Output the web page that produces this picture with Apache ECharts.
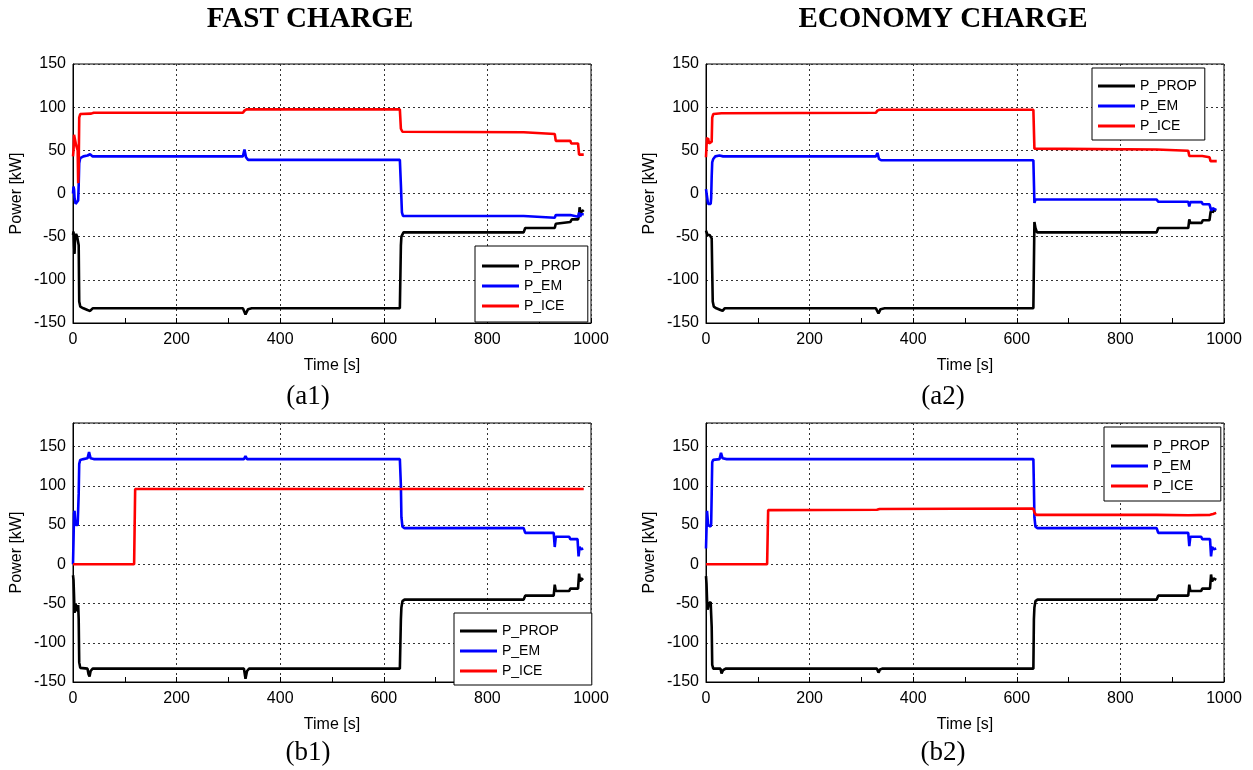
<!DOCTYPE html>
<html><head><meta charset="utf-8">
<script src="https://cdn.jsdelivr.net/npm/echarts@6/dist/echarts.min.js"></script>
<style>html,body{margin:0;padding:0;background:#fff}#c{width:1253px;height:770px}</style>
</head><body><div id="c"></div>
<script>
const SERIES_NAMES = ['P_PROP', 'P_EM', 'P_ICE'];
const PANEL_TITLES = ['FAST CHARGE', 'ECONOMY CHARGE'];
const PANEL_LABELS = ['(a1)', '(a2)', '(b1)', '(b2)'];
const X_AXIS_NAME = 'Time [s]';
const Y_AXIS_NAME = 'Power [kW]';

// (a1) Fast charge, top
const A1_PROP = [[0,-48],[1,-44],[2,-60],[3,-70],[4,-50],[6,-47],[8,-50],[10,-52],[11,-60],[12,-125],[14,-131],[20,-133],[28,-135],[33,-136],[38,-133],[328,-133],[333,-140],[338,-134],[345,-133],[631,-133],[633,-60],[634,-50],[638,-45],[870,-45],[873,-40],[930,-40],[932,-35],[960,-33],[963,-30],[975,-30],[977,-25],[978,-16],[980,-22],[983,-20],[986,-19]];
const A1_EM = [[0,0],[1,8],[2,5],[3,-5],[5,-12],[8,-10],[10,-8],[11,10],[12,35],[14,41],[20,43],[28,44],[33,45.5],[38,43],[328,43],[331,51],[334,42],[338,39],[631,39],[633,10],[635,-22],[637,-26],[870,-26],[873,-28],[930,-28],[932,-25],[960,-25],[962,-26],[975,-27],[977,-22],[979,-27],[981,-24],[986,-24]];
const A1_ICE = [[0,43],[1,50],[2,68],[3,70],[4,62],[6,56],[8,58],[9,50],[10,12],[11,30],[12,88],[14,92],[35,92.5],[40,93.5],[328,93.5],[331,96],[335,97.5],[631,97.5],[633,75],[636,71.5],[870,71],[873,69],[930,69],[932,61],[960,61],[962,58],[975,58],[977,45],[986,45]];

// (a2) Economy charge, top
const A2_PROP = [[0,-43],[1,-45],[3,-48],[5,-50],[7,-48],[9,-50],[11,-52],[12,-90],[13,-125],[15,-131],[20,-133],[28,-135],[32,-136],[36,-133],[328,-133],[333,-139],[337,-134],[345,-133],[632,-133],[634,-33],[636,-40],[639,-45],[870,-45],[873,-40],[931,-40],[933,-30],[935,-34],[957,-34],[959,-31],[972,-31],[974,-22],[976,-18],[978,-22],[981,-19],[985,-20]];
const A2_EM = [[0,5],[1,7],[2,3],[4,-12],[9,-12],[10,-5],[11,20],[12,36],[14,40],[18,43],[26,44],[29,46],[33,43],[328,43],[331,47],[334,40],[338,38.5],[632,38.5],[634,-11],[636,-7],[870,-7],[873,-9.5],[931,-9.5],[933,-15],[935,-10],[957,-10],[959,-12.5],[972,-12.5],[974,-17],[976,-20],[978,-17],[981,-19],[985,-19]];
const A2_ICE = [[0,42],[1,55],[2,65],[3,60],[4,64],[6,58],[9,58],[11,60],[12,88],[14,92],[30,93],[328,93.5],[331,96],[335,97],[632,97],[634,52],[636,51],[870,51],[873,49.5],[931,49.5],[933,43.5],[958,43.5],[960,42],[972,42],[974,37.5],[986,37.5]];

// (b1) Fast charge, bottom
const B1_PROP = [[0,-14],[1,-20],[2,-40],[3,-62],[4,-55],[5,-50],[6,-48],[8,-50],[9,-60],[10,-52],[11,-70],[12,-125],[14,-132],[28,-133],[30,-140],[32,-143],[34,-136],[38,-133],[330,-133],[333,-146],[336,-136],[340,-133],[631,-133],[633,-70],[634,-55],[636,-47],[640,-45],[870,-45],[873,-40],[928,-40],[930,-26],[932,-34],[958,-34],[960,-31],[975,-31],[977,-12],[979,-22],[981,-18],[985,-20]];
const B1_EM = [[0,0],[1,30],[2,65],[3,68],[4,58],[5,50],[7,48],[9,50],[10,52],[11,90],[12,128],[14,133],[20,134],[28,135],[31,143],[34,135],[40,134],[330,134],[333,138],[336,134],[631,134],[633,100],[634,60],[636,48],[640,46],[870,46],[873,40],[928,40],[930,22],[932,35],[958,35],[960,32],[974,32],[976,10],[978,22],[981,19],[985,20]];
const B1_ICE = [[0,0],[118,0],[120,96],[986,96]];

// (b2) Economy charge, bottom
const B2_PROP = [[0,-15],[1,-25],[2,-45],[3,-58],[4,-55],[5,-50],[7,-48],[9,-48],[10,-50],[11,-80],[12,-128],[14,-133],[28,-133],[30,-139],[33,-135],[38,-133],[330,-133],[333,-138],[336,-134],[340,-133],[632,-133],[633,-70],[634,-55],[636,-47],[640,-45],[870,-45],[873,-40],[931,-40],[933,-26],[935,-34],[956,-34],[958,-31],[973,-31],[975,-13],[977,-22],[980,-18],[985,-20]];
const B2_EM = [[0,20],[1,45],[2,68],[3,60],[4,50],[6,48],[9,48],[10,52],[11,90],[12,130],[14,133],[26,134],[29,142],[32,135],[40,134],[330,134],[333,136],[336,134],[632,134],[633,100],[634,60],[636,48],[640,46],[870,46],[873,40],[931,40],[933,23],[935,35],[956,35],[958,32],[973,32],[975,10],[977,22],[980,19],[985,20]];
const B2_ICE = [[0,0],[118,0],[120,69],[330,69.5],[335,70.5],[632,71],[634,66],[637,63],[870,63],[873,62.5],[931,62.5],[933,63],[973,63],[975,65],[979,64],[985,65.5]];

const COLORS = ['#000000', '#0000ff', '#ff0000'];
const SANS = "'Liberation Sans', Arial, sans-serif";
const SERIF = "'Liberation Serif', 'DejaVu Serif', serif";

const panels = [
  { grid: {left: 73, top: 64, width: 518, height: 259}, ymax: 150, data: [A1_PROP, A1_EM, A1_ICE],
    legend: {left: 475, top: 246, padding: [12, 7, 8, 7]} },
  { grid: {left: 706, top: 64, width: 518, height: 259}, ymax: 150, data: [A2_PROP, A2_EM, A2_ICE],
    legend: {left: 1092, top: 68, padding: [10, 8, 6, 6]} },
  { grid: {left: 73, top: 423, width: 518, height: 259}, ymax: 180, data: [B1_PROP, B1_EM, B1_ICE],
    legend: {left: 454, top: 613, padding: [10, 33, 6, 6]} },
  { grid: {left: 706, top: 423, width: 518, height: 259}, ymax: 180, data: [B2_PROP, B2_EM, B2_ICE],
    legend: {left: 1104, top: 427, padding: [11, 11, 7, 7]} }
];

const grids = [], xAxes = [], yAxes = [], series = [], legends = [];
panels.forEach((p, i) => {
  grids.push(Object.assign({show: true, borderColor: '#000', borderWidth: 1, backgroundColor: '#fff'}, p.grid));
  xAxes.push({
    type: 'value', gridIndex: i, min: 0, max: 1000, interval: 200,
    name: X_AXIS_NAME, nameLocation: 'middle', nameGap: 35,
    nameTextStyle: {fontFamily: SANS, fontSize: 16, color: '#000'},
    axisLine: {show: true, onZero: false, lineStyle: {color: '#000', width: 1}},
    axisTick: {show: true, inside: true, length: 5, lineStyle: {color: '#000'}},
    minorTick: {show: true, splitNumber: 2, length: 5, lineStyle: {color: '#000'}},
    axisLabel: {fontFamily: SANS, fontSize: 16, color: '#000', margin: 9, formatter: v => String(v)},
    splitLine: {show: true, lineStyle: {color: '#333', type: [2, 3], width: 1}}
  });
  yAxes.push({
    type: 'value', gridIndex: i, min: -150, max: p.ymax, interval: 50,
    name: Y_AXIS_NAME, nameLocation: 'middle', nameGap: 48, nameRotate: 90,
    nameTextStyle: {fontFamily: SANS, fontSize: 16, color: '#000'},
    axisLine: {show: true, onZero: false, lineStyle: {color: '#000', width: 1}},
    axisTick: {show: false},
    axisLabel: {fontFamily: SANS, fontSize: 16, color: '#000', margin: 7, showMaxLabel: p.ymax === 150, formatter: v => String(v)},
    splitLine: {show: true, lineStyle: {color: '#333', type: [2, 3], width: 1}}
  });
  p.data.forEach((d, k) => {
    series.push({
      name: SERIES_NAMES[k], type: 'line', xAxisIndex: i, yAxisIndex: i, data: d,
      symbol: 'none', lineStyle: {color: COLORS[k], width: 2.6}, itemStyle: {color: COLORS[k]},
      animation: false, z: 2 + k
    });
  });
  legends.push({
    data: SERIES_NAMES.map(n => ({name: n, icon: 'rect'})), orient: 'vertical', left: p.legend.left, top: p.legend.top,
    padding: p.legend.padding, itemGap: 4, itemWidth: 37, itemHeight: 3, itemTextGap: 6,
    backgroundColor: '#fff', borderColor: '#000', borderWidth: 1, borderRadius: 0,
    selectedMode: false, z: 10,
    textStyle: {fontFamily: SANS, fontSize: 14, color: '#000', lineHeight: 16}
  });
});

const textEl = (txt, x, y, font) => ({
  type: 'text', x: x, y: y, z: 20,
  style: {text: txt, font: font, fill: '#000', textAlign: 'center', textVerticalAlign: 'middle'}
});

const graphics = [
  textEl(PANEL_TITLES[0], 310, 20, "bold 29px " + SERIF),
  textEl(PANEL_TITLES[1], 943, 20, "bold 29px " + SERIF),
  textEl(PANEL_LABELS[0], 308, 397, "27px " + SERIF),
  textEl(PANEL_LABELS[1], 943, 397, "27px " + SERIF),
  textEl(PANEL_LABELS[2], 308, 753, "27px " + SERIF),
  textEl(PANEL_LABELS[3], 943, 753, "27px " + SERIF)
];

const chart = echarts.init(document.getElementById('c'), null, {renderer: 'canvas'});
chart.setOption({
  animation: false,
  backgroundColor: '#fff',
  grid: grids, xAxis: xAxes, yAxis: yAxes, series: series, legend: legends,
  graphic: graphics
});
</script></body></html>
